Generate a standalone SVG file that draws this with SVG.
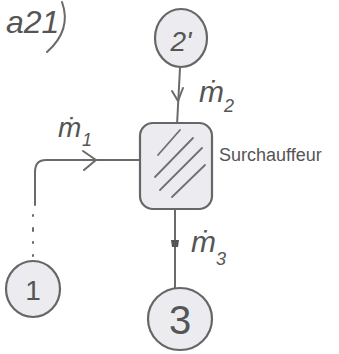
<svg xmlns="http://www.w3.org/2000/svg" width="339" height="354" viewBox="0 0 339 354">
<style>
.ln{fill:none;stroke:#6a6a6a;stroke-width:2;stroke-linecap:round;stroke-linejoin:round}
.nd{fill:#ebebf0;stroke:#666;stroke-width:2.2}
.t{font-family:"Liberation Sans",sans-serif;fill:#555}
.h{stroke:#707070;stroke-width:1.8;stroke-linecap:round}
</style>
<rect width="339" height="354" fill="#fff"/>
<g id="title">
<text class="t" x="6" y="33" font-size="32" font-style="italic">a21</text>
<path class="ln" d="M62 2 Q72 30 47 52"/>
</g>
<g id="connectors">
<path class="ln" d="M180 68 L177 125"/>
<path class="ln" d="M172 91 L178 101 L183 88"/>
<path class="ln" d="M140 160 L46 160 Q35 160 35 172 L35 205"/>
<path class="ln" d="M83 151 L96 160 L84 170"/>
<path class="ln" d="M33 215 L33 216 M33 228 L33 231 M33 242 L33 243 M33 255 L33 256"/>
<path class="ln" d="M175 210 L175 288"/>
<path d="M171 240 L179 240 L178 247 L172 247 Z" fill="#555"/>
</g>
<g id="node-2prime">
<ellipse class="nd" cx="181" cy="38" rx="26" ry="29"/>
<text class="t" x="181" y="51" font-size="28" font-style="italic" text-anchor="middle">2'</text>
</g>
<g id="surchauffeur">
<rect class="nd" x="140" y="123" width="72" height="86" rx="13"/>
<line class="h" x1="158" y1="155" x2="180" y2="130"/>
<line class="h" x1="155" y1="177" x2="193" y2="138"/>
<line class="h" x1="160" y1="190" x2="202" y2="148"/>
<line class="h" x1="172" y1="197" x2="205" y2="165"/>
<text class="t" x="219" y="161" font-size="18">Surchauffeur</text>
</g>
<g id="node-1">
<ellipse class="nd" cx="33" cy="289" rx="27" ry="28"/>
<text class="t" x="33" y="300" font-size="28" text-anchor="middle">1</text>
</g>
<g id="node-3">
<ellipse class="nd" cx="180" cy="319" rx="32" ry="31"/>
<text class="t" x="180" y="334" font-size="40" text-anchor="middle">3</text>
</g>
<g id="labels">
<text class="t" x="199" y="102" font-size="30" font-style="italic">ṁ</text>
<text class="t" x="224" y="112" font-size="18" font-style="italic">2</text>
<text class="t" x="58" y="137" font-size="28" font-style="italic">ṁ</text>
<text class="t" x="82" y="146" font-size="18" font-style="italic">1</text>
<text class="t" x="191" y="252" font-size="30" font-style="italic">ṁ</text>
<text class="t" x="216" y="265" font-size="18" font-style="italic">3</text>
</g>
</svg>
